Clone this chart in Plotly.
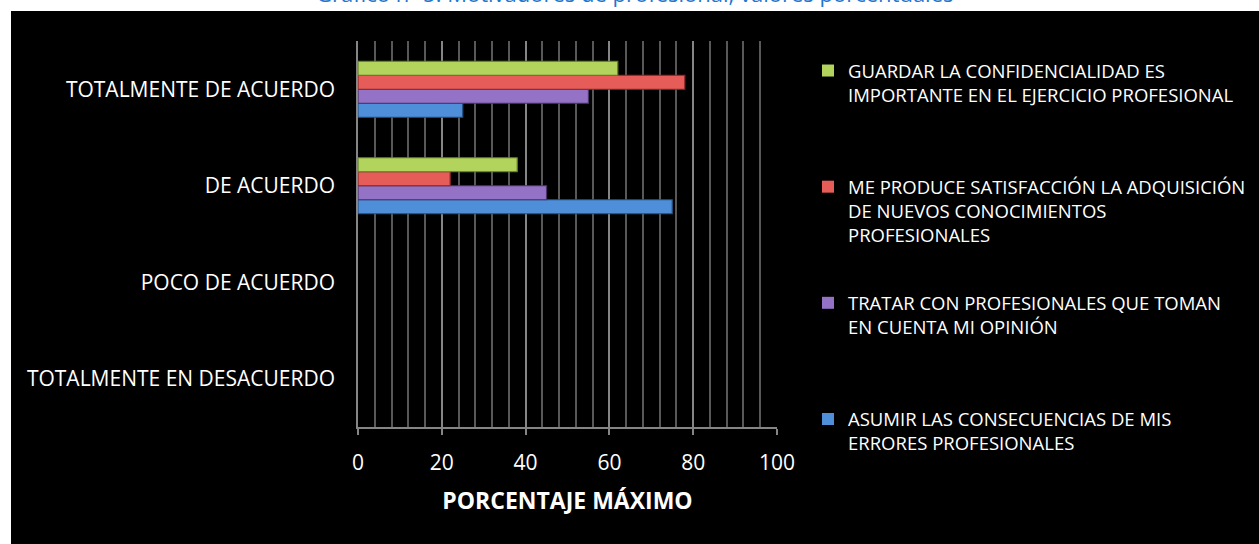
import plotly.graph_objects as go

# ---- data ----
categories = ["TOTALMENTE EN DESACUERDO", "POCO DE ACUERDO", "DE ACUERDO", "TOTALMENTE DE ACUERDO"]
series_names = [
    "ASUMIR LAS CONSECUENCIAS DE MIS<br>ERRORES PROFESIONALES",
    "TRATAR CON PROFESIONALES QUE TOMAN<br>EN CUENTA MI OPINIÓN",
    "ME PRODUCE SATISFACCIÓN LA ADQUISICIÓN<br>DE NUEVOS CONOCIMIENTOS<br>PROFESIONALES",
    "GUARDAR LA CONFIDENCIALIDAD ES<br>IMPORTANTE EN EL EJERCICIO PROFESIONAL",
]
asumir = [0, 0, 75, 25]
tratar = [0, 0, 45, 55]
satisfaccion = [0, 0, 22, 78]
confidencialidad = [0, 0, 38, 62]
x_ticks = [0, 20, 40, 60, 80, 100]
title_text = "Gráfico nº 5: Motivadores de profesional, valores porcentuales"
x_title = "PORCENTAJE MÁXIMO"

series_values = [asumir, tratar, satisfaccion, confidencialidad]
fills = ["#4f8fda", "#9472c6", "#e65c58", "#b2d35c"]
edges = ["#24507f", "#4a3568", "#8a2826", "#62802a"]

W, H = 1259, 544
ML, MR, MT, MB = 358, 482, 41, 117
PW, PH = W - ML - MR, H - MT - MB

def px_x(p):
    return (p - ML) / PW

def px_y(p):
    return 1 - (p - MT) / PH

fig = go.Figure()
n = len(series_names)
for i, (name, vals) in enumerate(zip(series_names, series_values)):
    lines = name.count("<br>") + 1
    legend_name = name + "<br>\u00a0" * (3 - lines)
    fig.add_trace(go.Bar(
        y=categories, x=vals, orientation="h", name=legend_name,
        legendgroup=f"g{i}", legendrank=n - i,
        marker=dict(color=fills[i],
                    line=dict(color=edges[i], width=[1.2 if v > 0 else 0 for v in vals])),
    ))

fig.update_layout(
    width=W, height=H,
    margin=dict(l=ML, r=MR, t=MT, b=MB, pad=0),
    paper_bgcolor="white",
    plot_bgcolor="#404040",
    barmode="group", bargap=0.42, bargroupgap=0,
    font=dict(family="Open Sans", color="white"),
    showlegend=True,
    legend=dict(
        xref="container", yref="container",
        x=808 / W, xanchor="left", y=1 - 52 / H, yanchor="top",
        traceorder="grouped", tracegroupgap=41, maxheight=520,
        font=dict(size=18.5, color="white"), valign="top",
        bgcolor="rgba(0,0,0,0)",
    ),
    xaxis=dict(
        range=[0, 100], tickvals=x_ticks, showgrid=True, gridcolor="#858585", gridwidth=2,
        minor=dict(dtick=4, showgrid=True, gridcolor="#585858", gridwidth=1.5),
        showline=True, linecolor="#858585", linewidth=1.5,
        ticks="outside", ticklen=6, tickcolor="#858585", tickwidth=1.5,
        tickfont=dict(size=21, color="white"), ticklabelstandoff=10,
        zeroline=False, fixedrange=True,
        title=dict(text="<b>" + x_title + "</b>", font=dict(size=23, color="white"), standoff=18),
    ),
    yaxis=dict(
        showgrid=False, showline=True, linecolor="#858585", linewidth=1.5,
        ticks="", tickfont=dict(size=21, color="white"), ticklabelstandoff=17,
        fixedrange=True,
    ),
    shapes=[dict(
        type="rect", xref="paper", yref="paper", layer="below",
        x0=px_x(11), x1=px_x(W + 5), y0=px_y(H + 5), y1=px_y(11),
        fillcolor="black", line=dict(width=0),
    )],
    annotations=[dict(
        text=title_text, xref="paper", yref="paper",
        x=px_x(635), y=1, xanchor="center", yanchor="middle", yshift=MT + 7,
        showarrow=False, font=dict(size=22, color="#1f77d0", family="Open Sans"),
    )],
)

fig.write_html(
    "out.html",
    config={"displayModeBar": False},
    post_script="document.body.style.margin='0';",
)
